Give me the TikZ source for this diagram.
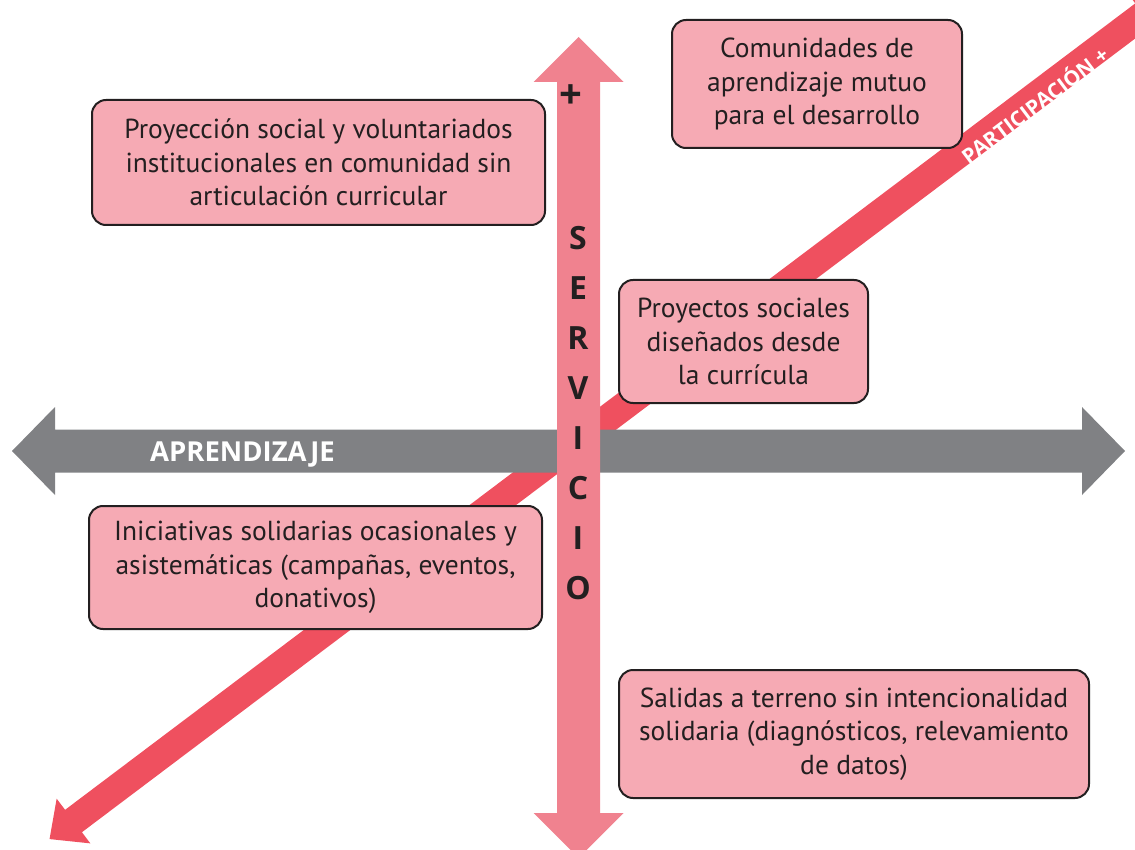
\documentclass[tikz,border=0pt]{standalone}
\usepackage{fontspec}
\setmainfont{PT Sans}
\newfontfamily\labelfont{Open Sans}
\definecolor{boxpink}{HTML}{F6AAB4}
\definecolor{servpink}{HTML}{F0828F}
\definecolor{partred}{HTML}{EF505F}
\definecolor{aprgray}{HTML}{808184}
\definecolor{ink}{HTML}{231F20}
\begin{document}
\begin{tikzpicture}[x=1pt,y=-1pt,
    quadbox/.style={draw=ink,line width=2pt,fill=boxpink,rounded corners=14pt,align=center,text=ink,inner sep=0pt,font=\fontsize{27.5}{33.5}\selectfont},
    axislabel/.style={text=white,inner sep=0pt,font=\labelfont\bfseries\fontsize{27.5}{30}\selectfont},
    servlabel/.style={text=ink,inner sep=0pt,font=\labelfont\bfseries\fontsize{32}{36}\selectfont}]
  \useasboundingbox (0,0) rectangle (1135,850);
  \clip (0,0) rectangle (1135,850);
  \begin{scope}[shift={(608.6,417.8)},rotate=37]
    \fill[partred] (-700,0) -- (-670,-28) -- (-670,-14) -- (670,-14) -- (670,-28) -- (700,0) -- (670,28) -- (670,14) -- (-670,14) -- (-670,28) -- cycle;
  \end{scope}
  \node[axislabel,rotate=37,font=\labelfont\bfseries\fontsize{21}{22}\selectfont] (part) at (1034,104) {PARTICIPACIÓN +};
  \fill[aprgray] (12,451) -- (55,407) -- (55,429.5) -- (1082,429.5) -- (1082,407) -- (1125,451) -- (1082,495) -- (1082,472.5) -- (55,472.5) -- (55,495) -- cycle;
  \node[axislabel,anchor=west] (apr) at (150,455) {APRENDIZAJE};
  \fill[servpink] (578.5,37) -- (623.5,82) -- (600,82) -- (600,813) -- (623.5,813) -- (578.5,858) -- (533.5,813) -- (557,813) -- (557,82) -- (533.5,82) -- cycle;
  \node[servlabel,font=\labelfont\bfseries\fontsize{40}{40}\selectfont] (plus) at (571,97) {+};
  \foreach \l [count=\i] in {S,E,R,V,I,C,I,O}
    \node[servlabel] (serv\i) at (578,188+50*\i) {\l};

  \node[quadbox,minimum width=290pt,minimum height=128pt] (comunidades) at (817,84) {Comunidades de\\aprendizaje mutuo\\para el desarrollo};
  \node[quadbox,minimum width=453pt,minimum height=125pt] (proyeccion) at (318.5,162.5) {Proyección social y voluntariados\\institucionales en comunidad sin\\articulación curricular};
  \node[quadbox,minimum width=249pt,minimum height=123pt] (proyectos) at (743.5,341.5) {Proyectos sociales\\diseñados desde\\la currícula};
  \node[quadbox,minimum width=453pt,minimum height=123pt] (iniciativas) at (315.5,567.5) {Iniciativas solidarias ocasionales y\\asistemáticas (campañas, eventos,\\donativos)};
  \node[quadbox,minimum width=470pt,minimum height=128pt] (salidas) at (854,734) {Salidas a terreno sin intencionalidad\\solidaria (diagnósticos, relevamiento\\de datos)};
\end{tikzpicture}
\end{document}
